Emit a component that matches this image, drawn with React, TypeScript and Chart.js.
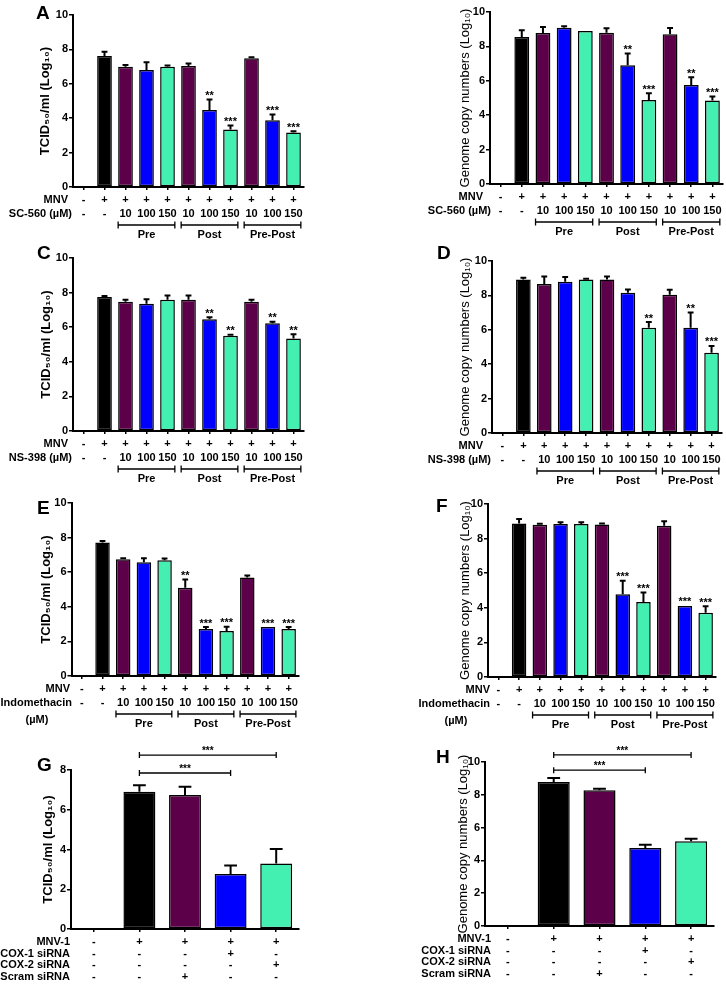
import React, { useEffect, useRef } from "react";
import { Chart, registerables } from "chart.js";

Chart.register(...registerables);

const FONT = "'Liberation Sans', Arial, Helvetica, sans-serif";
Chart.defaults.font.family = FONT;
Chart.defaults.color = "#000";

const BLACK = "#000000";
const PURPLE = "#5c0049";
const BLUE = "#0000ff";
const TEAL = "#44efb2";

// ---------- shared categories / table rows (panels A-F) ----------
const drugCategories = ["none", "MNV", "Pre 10", "Pre 100", "Pre 150", "Post 10", "Post 100", "Post 150", "Pre-Post 10", "Pre-Post 100", "Pre-Post 150"];
const drugColors = [BLACK, BLACK, PURPLE, BLUE, TEAL, PURPLE, BLUE, TEAL, PURPLE, BLUE, TEAL];
const mnvRow = ["-", "+", "+", "+", "+", "+", "+", "+", "+", "+", "+"];
const doseRow = ["-", "-", "10", "100", "150", "10", "100", "150", "10", "100", "150"];
const groupLabels = ["Pre", "Post", "Pre-Post"];
const groupSpans = [[2, 4], [5, 7], [8, 10]];

// ---------- panel A : SC-560, TCID50 ----------
const aValues = [null, 7.61, 6.99, 6.8, 6.99, 7.03, 4.47, 3.34, 7.48, 3.88, 3.17];
const aErrors = [0, 0.25, 0.1, 0.46, 0.08, 0.15, 0.62, 0.23, 0.07, 0.33, 0.07];
const aStars = ["", "", "", "", "", "", "**", "***", "", "***", "***"];

// ---------- panel B : SC-560, genome copies ----------
const bValues = [null, 8.55, 8.78, 9.09, 8.9, 8.8, 6.91, 4.88, 8.71, 5.75, 4.85];
const bErrors = [0, 0.39, 0.35, 0.08, 0, 0.25, 0.68, 0.39, 0.36, 0.45, 0.23];
const bStars = ["", "", "", "", "", "", "**", "***", "", "**", "***"];

// ---------- panel C : NS-398, TCID50 ----------
const cValues = [null, 7.74, 7.47, 7.35, 7.58, 7.58, 6.46, 5.51, 7.47, 6.23, 5.34];
const cErrors = [0, 0.07, 0.11, 0.27, 0.25, 0.25, 0.12, 0.06, 0.11, 0.09, 0.25];
const cStars = ["", "", "", "", "", "", "**", "**", "", "**", "**"];

// ---------- panel D : NS-398, genome copies ----------
const dValues = [null, 8.93, 8.66, 8.8, 8.93, 8.93, 8.16, 6.12, 8.04, 6.12, 4.67];
const dErrors = [0, 0.1, 0.44, 0.27, 0.04, 0.17, 0.19, 0.33, 0.29, 0.88, 0.39];
const dStars = ["", "", "", "", "", "", "", "**", "", "**", "***"];

// ---------- panel E : Indomethacin, TCID50 ----------
const eValues = [null, 7.71, 6.75, 6.58, 6.69, 5.1, 2.71, 2.6, 5.69, 2.83, 2.71];
const eErrors = [0, 0.1, 0.06, 0.23, 0.1, 0.48, 0.12, 0.25, 0.12, 0, 0.12];
const eStars = ["", "", "", "", "", "**", "***", "***", "", "***", "***"];

// ---------- panel F : Indomethacin, genome copies ----------
const fValues = [null, 8.88, 8.8, 8.84, 8.84, 8.82, 4.79, 4.34, 8.75, 4.11, 3.71];
const fErrors = [0, 0.25, 0.06, 0.1, 0.1, 0.06, 0.77, 0.54, 0.25, 0, 0.38];
const fStars = ["", "", "", "", "", "", "***", "***", "", "***", "***"];

// ---------- panels G / H : siRNA ----------
const sirnaCategories = ["none", "MNV-1", "Scram siRNA", "COX-1 siRNA", "COX-2 siRNA"];
const sirnaColors = [BLACK, BLACK, PURPLE, BLUE, TEAL];
const sirnaMnvRow = ["-", "+", "+", "+", "+"];
const sirnaCox1Row = ["-", "-", "-", "+", "-"];
const sirnaCox2Row = ["-", "-", "-", "-", "+"];
const sirnaScramRow = ["-", "-", "+", "-", "-"];
const gValues = [null, 6.9, 6.74, 2.77, 3.3];
const gErrors = [0, 0.33, 0.42, 0.43, 0.73];
const hValues = [null, 8.78, 8.27, 4.75, 5.17];
const hErrors = [0, 0.24, 0.1, 0.2, 0.15];
const sigLabel = "***";

const TCID = "TCID\u2085\u2080/ml (Log\u2081\u2080)";
const GENOME = "Genome copy numbers (Log\u2081\u2080)";

type Row = { label: string | string[]; cells: string[]; dy: number; anchor: number; center?: number };
type Panel = {
  key: string;
  box: { x: number; y: number; w: number; h: number };
  area: { L: number; R: number; T: number; B: number };
  yMax: number;
  title: string;
  titleBold: boolean;
  titleX: number;
  label?: string;
  labelPos?: [number, number];
  categories: string[];
  colors: string[];
  values: (number | null)[];
  errors: number[];
  stars?: string[];
  rows: Row[];
  groups?: boolean;
  sig?: { from: number; to: number; at: number }[];
};

const drugRows = (drug: string, a1: number, a2: number): Row[] => [
  { label: "MNV", cells: mnvRow, dy: 12.5, anchor: a1 },
  { label: drug, cells: doseRow, dy: 27, anchor: a2 },
];
const indoRows = (a1: number, a2: number, c: number): Row[] => [
  { label: "MNV", cells: mnvRow, dy: 12.5, anchor: a1 },
  { label: ["Indomethacin", "(\u00b5M)"], cells: doseRow, dy: 27, anchor: a2, center: c },
];
const sirnaRows = (a: number): Row[] => [
  { label: "MNV-1", cells: sirnaMnvRow, dy: 13, anchor: a },
  { label: "COX-1 siRNA", cells: sirnaCox1Row, dy: 24.5, anchor: a },
  { label: "COX-2 siRNA", cells: sirnaCox2Row, dy: 36, anchor: a },
  { label: "Scram siRNA", cells: sirnaScramRow, dy: 48, anchor: a },
];

const panels: Panel[] = [
  { key: "A", box: { x: 0, y: 0, w: 363, h: 245 }, area: { L: 73, R: 304, T: 15, B: 187 }, yMax: 10, title: TCID, titleBold: true, titleX: 45,
    label: "A", labelPos: [36, 19], categories: drugCategories, colors: drugColors, values: aValues, errors: aErrors, stars: aStars,
    rows: drugRows("SC-560 (\u00b5M)", 68, 72), groups: true },
  { key: "B", box: { x: 363, y: 0, w: 363, h: 245 }, area: { L: 490, R: 723, T: 12, B: 184 }, yMax: 10, title: GENOME, titleBold: false, titleX: 465,
    categories: drugCategories, colors: drugColors, values: bValues, errors: bErrors, stars: bStars,
    rows: drugRows("SC-560 (\u00b5M)", 483, 491), groups: true },
  { key: "C", box: { x: 0, y: 240, w: 363, h: 245 }, area: { L: 73, R: 304, T: 258, B: 431 }, yMax: 10, title: TCID, titleBold: true, titleX: 46,
    label: "C", labelPos: [37, 259], categories: drugCategories, colors: drugColors, values: cValues, errors: cErrors, stars: cStars,
    rows: drugRows("NS-398 (\u00b5M)", 68, 72), groups: true },
  { key: "D", box: { x: 363, y: 240, w: 363, h: 245 }, area: { L: 492, R: 722, T: 261, B: 433 }, yMax: 10, title: GENOME, titleBold: false, titleX: 465,
    label: "D", labelPos: [437, 259], categories: drugCategories, colors: drugColors, values: dValues, errors: dErrors, stars: dStars,
    rows: drugRows("NS-398 (\u00b5M)", 483, 491), groups: true },
  { key: "E", box: { x: 0, y: 485, w: 363, h: 250 }, area: { L: 71.5, R: 299, T: 503, B: 676 }, yMax: 10, title: TCID, titleBold: true, titleX: 46,
    label: "E", labelPos: [37, 514], categories: drugCategories, colors: drugColors, values: eValues, errors: eErrors, stars: eStars,
    rows: indoRows(70, 72, 37), groups: true },
  { key: "F", box: { x: 363, y: 485, w: 363, h: 250 }, area: { L: 488, R: 716, T: 504, B: 677 }, yMax: 10, title: GENOME, titleBold: false, titleX: 465,
    label: "F", labelPos: [436, 512], categories: drugCategories, colors: drugColors, values: fValues, errors: fErrors, stars: fStars,
    rows: indoRows(490, 490, 456), groups: true },
  { key: "G", box: { x: 0, y: 735, w: 363, h: 249 }, area: { L: 71, R: 299, T: 770, B: 929 }, yMax: 8, title: TCID, titleBold: true, titleX: 48,
    label: "G", labelPos: [37, 771], categories: sirnaCategories, colors: sirnaColors, values: gValues, errors: gErrors,
    rows: sirnaRows(70), sig: [{ from: 1, to: 4, at: 8.75 }, { from: 1, to: 3, at: 7.85 }] },
  { key: "H", box: { x: 363, y: 735, w: 363, h: 249 }, area: { L: 485, R: 714, T: 762, B: 926 }, yMax: 10, title: GENOME, titleBold: false, titleX: 463,
    label: "H", labelPos: [436, 763], categories: sirnaCategories, colors: sirnaColors, values: hValues, errors: hErrors,
    rows: sirnaRows(491), sig: [{ from: 1, to: 4, at: 10.43 }, { from: 1, to: 3, at: 9.5 }] },
];

const XH = 5;
const TXT = (w: string, s: number) => `${w} ${s}px ${FONT}`;

function makeDecor(p: Panel) {
  return {
    id: "decor" + p.key,
    afterDatasetsDraw(chart: any) {
      const ctx: CanvasRenderingContext2D = chart.ctx;
      const ys = chart.scales.y;
      const meta = chart.getDatasetMeta(0);
      ctx.save();
      ctx.strokeStyle = "#000";
      ctx.fillStyle = "#000";
      ctx.lineWidth = 2;
      meta.data.forEach((bar: any, i: number) => {
        const v = p.values[i];
        if (v == null) return;
        const e = p.errors[i];
        const { x: bx, width } = bar.getProps(["x", "width"], true);
        const yTop = ys.getPixelForValue(v);
        const yErr = ys.getPixelForValue(v + e);
        if (e > 0) {
          const cw = width * 0.2;
          ctx.beginPath();
          ctx.moveTo(bx, yTop);
          ctx.lineTo(bx, yErr);
          ctx.moveTo(bx - cw, yErr);
          ctx.lineTo(bx + cw, yErr);
          ctx.stroke();
        }
        const s = p.stars ? p.stars[i] : "";
        if (s) {
          ctx.font = TXT("bold", 11);
          ctx.textAlign = "center";
          ctx.textBaseline = "alphabetic";
          ctx.fillText(s, bx, Math.min(yErr, yTop) - 0.5);
        }
      });
      ctx.restore();
    },
    afterDraw(chart: any) {
      const ctx: CanvasRenderingContext2D = chart.ctx;
      const xs = chart.scales.x;
      const ys = chart.scales.y;
      const ox = p.box.x;
      const oy = p.box.y;
      const base = ys.getPixelForValue(0);
      const meta = chart.getDatasetMeta(0);
      ctx.save();
      ctx.fillStyle = "#000";
      ctx.strokeStyle = "#000";
      // panel letter
      if (p.label && p.labelPos) {
        ctx.font = TXT("bold", 19);
        ctx.textAlign = "left";
        ctx.textBaseline = "alphabetic";
        ctx.fillText(p.label, p.labelPos[0] - ox, p.labelPos[1] - oy);
      }
      // table rows
      ctx.font = TXT("bold", 11);
      ctx.textBaseline = "middle";
      p.rows.forEach((r) => {
        const y = base + r.dy;
        if (Array.isArray(r.label)) {
          ctx.textAlign = "right";
          ctx.fillText(r.label[0], r.anchor - ox, y);
          ctx.textAlign = "center";
          ctx.fillText(r.label[1], (r.center ?? 0) - ox, y + 17);
        } else {
          ctx.textAlign = "right";
          ctx.fillText(r.label, r.anchor - ox, y);
        }
        ctx.textAlign = "center";
        r.cells.forEach((c, i) => ctx.fillText(c, xs.getPixelForValue(i), y));
      });
      // treatment groups
      if (p.groups) {
        const by = base + 38;
        ctx.lineWidth = 1.3;
        groupSpans.forEach(([a, b], gi) => {
          const ba = meta.data[a].getProps(["x", "width"], true);
          const bb = meta.data[b].getProps(["x", "width"], true);
          const x0 = ba.x - ba.width / 2;
          const x1 = bb.x + bb.width / 2;
          ctx.beginPath();
          ctx.moveTo(x0, by);
          ctx.lineTo(x1, by);
          ctx.moveTo(x0, by - 3.5);
          ctx.lineTo(x0, by + 3.5);
          ctx.moveTo(x1, by - 3.5);
          ctx.lineTo(x1, by + 3.5);
          ctx.stroke();
          ctx.textAlign = "center";
          ctx.fillText(groupLabels[gi], (x0 + x1) / 2, base + 47.5);
        });
      }
      // significance brackets
      if (p.sig) {
        ctx.lineWidth = 1.3;
        p.sig.forEach((s) => {
          const x0 = xs.getPixelForValue(s.from);
          const x1 = xs.getPixelForValue(s.to);
          const y = ys.getPixelForValue(s.at);
          ctx.beginPath();
          ctx.moveTo(x0, y);
          ctx.lineTo(x1, y);
          ctx.moveTo(x0, y - 3);
          ctx.lineTo(x0, y + 3);
          ctx.moveTo(x1, y - 3);
          ctx.lineTo(x1, y + 3);
          ctx.stroke();
          ctx.font = TXT("bold", 10);
          ctx.textAlign = "center";
          ctx.textBaseline = "alphabetic";
          ctx.fillText(sigLabel, (x0 + x1) / 2, y - 1);
          ctx.font = TXT("bold", 11);
          ctx.textBaseline = "middle";
        });
      }
      ctx.restore();
    },
  };
}

function PanelChart({ p }: { p: Panel }) {
  const ref = useRef<HTMLCanvasElement>(null);
  useEffect(() => {
    const canvas = ref.current;
    if (!canvas) return;
    const { box, area } = p;
    const titleSize = 13;
    const titlePad = p.titleX - box.x - (titleSize * 1.2) / 2;
    const chart = new Chart(canvas, {
      type: "bar",
      data: {
        labels: p.categories,
        datasets: [
          {
            data: p.values as any,
            backgroundColor: p.colors,
            borderColor: "#000",
            borderWidth: 1.5,
            borderSkipped: false,
            categoryPercentage: 1,
            barPercentage: 0.7,
          },
        ],
      },
      options: {
        animation: false,
        responsive: false,
        maintainAspectRatio: false,
        events: [],
        layout: {
          padding: {
            left: 0,
            top: area.T - box.y,
            right: box.x + box.w - area.R,
            bottom: box.y + box.h - area.B - XH,
          },
        },
        plugins: { legend: { display: false }, tooltip: { enabled: false } },
        scales: {
          x: {
            type: "category",
            offset: true,
            grid: { display: true, drawOnChartArea: false, drawTicks: true, tickLength: 3, offset: false, color: "#000", lineWidth: 1.5 },
            border: { display: true, color: "#000", width: 2 },
            ticks: { display: false },
            afterFit: (s: any) => {
              s.height = XH;
            },
          },
          y: {
            min: 0,
            max: p.yMax,
            ticks: { stepSize: 2, font: { size: 11, weight: "bold" }, color: "#000", padding: 1 },
            grid: { display: true, drawOnChartArea: false, drawTicks: true, tickLength: 4, color: "#000", lineWidth: 1.5 },
            border: { display: true, color: "#000", width: 2 },
            title: {
              display: true,
              text: p.title,
              color: "#000",
              font: { size: titleSize, weight: p.titleBold ? "bold" : "normal" },
              padding: { top: titlePad, bottom: 0 },
            },
            afterFit: (s: any) => {
              s.width = area.L - box.x;
            },
          },
        },
      } as any,
      plugins: [makeDecor(p)],
    });
    return () => chart.destroy();
  }, [p]);
  return (
    <canvas
      ref={ref}
      width={p.box.w}
      height={p.box.h}
      style={{ position: "absolute", left: p.box.x, top: p.box.y, width: p.box.w, height: p.box.h }}
    />
  );
}

export default function App() {
  return (
    <div style={{ position: "absolute", left: 0, top: 0, width: 726, height: 984, background: "#fff", overflow: "hidden" }}>
      {panels.map((p) => (
        <PanelChart key={p.key} p={p} />
      ))}
    </div>
  );
}
